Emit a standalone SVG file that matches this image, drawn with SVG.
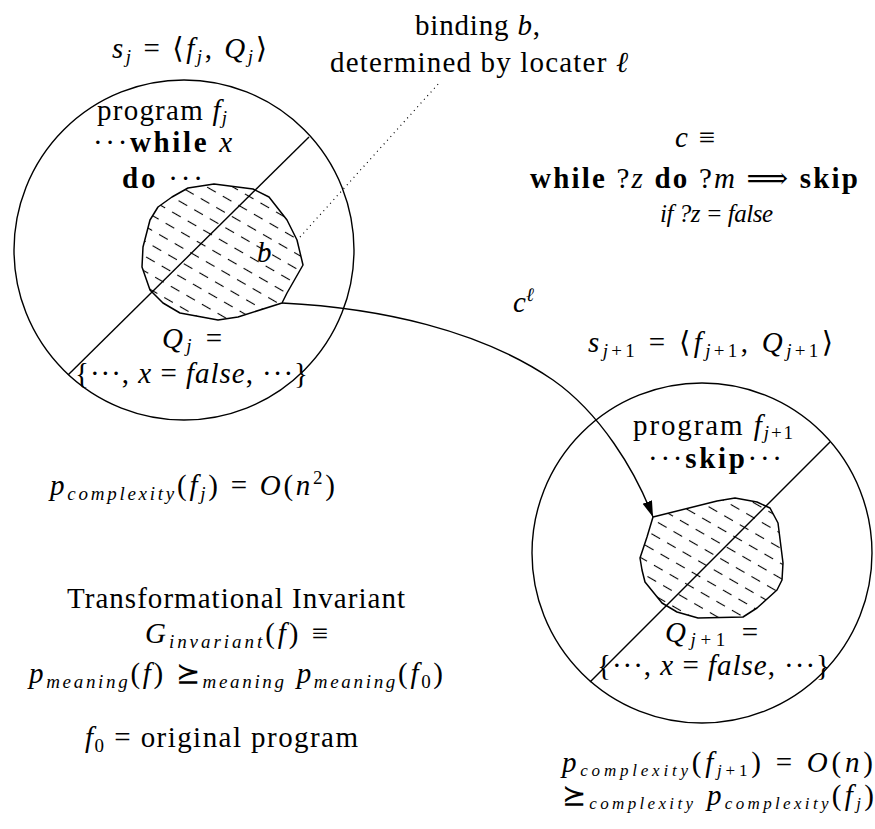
<svg xmlns="http://www.w3.org/2000/svg" width="875" height="829" viewBox="0 0 875 829">
<style>
text{font-family:"Liberation Serif","DejaVu Serif",serif;font-size:29px;fill:#000}
.i{font-style:italic}
.b{font-weight:bold}
.sub{font-style:italic;font-size:19px}
.subr{font-size:19px}
.small{font-size:17px}
.ring{fill:none;stroke:#000;stroke-width:1.4}
.cut{stroke:#000;stroke-width:1.4}
.blob{fill:url(#hatch);stroke:#000;stroke-width:1.5;stroke-linejoin:round}
.conn{fill:none;stroke:#000;stroke-width:1.4}
.dot{fill:none;stroke:#000;stroke-width:1.2;stroke-dasharray:1 4}
</style>
<defs>
<pattern id="hatch" patternUnits="userSpaceOnUse" width="18" height="13" patternTransform="rotate(30)">
<line x1="3" y1="6.5" x2="13" y2="6.5" stroke="#000" stroke-width="1.1"/>
</pattern>
<marker id="arrow" markerUnits="userSpaceOnUse" markerWidth="18" markerHeight="12" refX="16" refY="5" orient="auto">
<path d="M0,0 L16,5 L0,10 z" fill="#000"/>
</marker>
</defs>
<rect width="875" height="829" fill="#fff"/>

<g id="state-j">
<circle class="ring" cx="184" cy="250" r="170"/>
<polygon class="blob" points="214,184 253,189 269,197 287,220 297,240 303,265 287,293 282,303 238,317 218,320 180,313 163,303 150,290 142,267 143,247 150,220 158,207 172,197 188,188"/>
<line class="cut" x1="309" y1="137" x2="68" y2="375"/>
<text x="112" y="58" textLength="155"><tspan class="i">s</tspan><tspan class="sub" dy="5">j</tspan><tspan dy="-5"> = ⟨</tspan><tspan class="i">f</tspan><tspan class="sub" dy="5">j</tspan><tspan dy="-5">, </tspan><tspan class="i">Q</tspan><tspan class="sub" dy="5">j</tspan><tspan dy="-5">⟩</tspan></text>
<text x="97" y="120" textLength="130">program <tspan class="i">f</tspan><tspan class="sub" dy="4">j</tspan></text>
<text x="93" y="152" textLength="139">···<tspan class="b">while</tspan> <tspan class="i">x</tspan></text>
<text x="122" y="188" textLength="81"><tspan class="b">do</tspan> ···</text>
<text x="257" y="262" class="i">b</text>
<text x="162" y="348" textLength="60"><tspan class="i">Q</tspan><tspan class="sub" dy="4">j</tspan><tspan dy="-4"> =</tspan></text>
<text x="75" y="383" textLength="233">{···, <tspan class="i">x</tspan> = <tspan class="i">false</tspan>, ···}</text>
</g>

<g id="state-j1">
<circle class="ring" cx="702" cy="553" r="170"/>
<polygon class="blob" points="653,517 717,501 735,498 757,502 770,508 778,523 783,563 782,580 777,590 757,608 743,617 698,618 677,612 662,603 645,582 642,570 640,558 647,537 650,527"/>
<line class="cut" x1="830" y1="442" x2="590" y2="682"/>
<text x="588" y="352" textLength="245"><tspan class="i">s</tspan><tspan class="subr" dy="5"><tspan class="i">j</tspan>+1</tspan><tspan dy="-5"> = ⟨</tspan><tspan class="i">f</tspan><tspan class="subr" dy="5"><tspan class="i">j</tspan>+1</tspan><tspan dy="-5">, </tspan><tspan class="i">Q</tspan><tspan class="subr" dy="5"><tspan class="i">j</tspan>+1</tspan><tspan dy="-5">⟩</tspan></text>
<text x="633" y="435" textLength="160">program <tspan class="i">f</tspan><tspan class="subr" dy="4"><tspan class="i">j</tspan>+1</tspan></text>
<text x="648" y="468" textLength="134">···<tspan class="b">skip</tspan>···</text>
<text x="665" y="642" textLength="93"><tspan class="i">Q</tspan><tspan class="subr" dy="4"><tspan class="i">j</tspan>+1</tspan><tspan dy="-4"> =</tspan></text>
<text x="597" y="675" textLength="233">{···, <tspan class="i">x</tspan> = <tspan class="i">false</tspan>, ···}</text>
</g>

<g id="connectors">
<path class="conn" d="M282,303 C380,308 480,330 553,380 C600,413 635,470 653,517" marker-end="url(#arrow)"/>
<line class="dot" x1="300" y1="237" x2="440" y2="82"/>
</g>

<g id="labels">
<text x="415" y="35" textLength="125">binding <tspan class="i">b</tspan>,</text>
<text x="330" y="72" textLength="298">determined by locater <tspan class="i">ℓ</tspan></text>
<text x="675" y="147" textLength="40"><tspan class="i">c</tspan> ≡</text>
<text x="530" y="188" textLength="328"><tspan class="b">while</tspan> ?<tspan class="i">z</tspan> <tspan class="b">do</tspan> ?<tspan class="i">m</tspan> ⟹ <tspan class="b">skip</tspan></text>
<text x="660" y="222" textLength="113" class="i" style="font-size:25px">if ?z = false</text>
<text x="513" y="312"><tspan class="i">c</tspan><tspan class="sub" dy="-11">ℓ</tspan></text>
<text x="50" y="495" textLength="285"><tspan class="i">p</tspan><tspan class="sub" dy="5">complexity</tspan><tspan dy="-5">(</tspan><tspan class="i">f</tspan><tspan class="sub" dy="5">j</tspan><tspan dy="-5">) = </tspan><tspan class="i">O</tspan>(<tspan class="i">n</tspan><tspan class="subr" dy="-11">2</tspan><tspan dy="11">)</tspan></text>
<text x="67" y="608" textLength="338">Transformational Invariant</text>
<text x="145" y="643" textLength="183"><tspan class="i">G</tspan><tspan class="sub" dy="5">invariant</tspan><tspan dy="-5">(</tspan><tspan class="i">f</tspan>) ≡</text>
<text x="29" y="683" textLength="414"><tspan class="i">p</tspan><tspan class="sub" dy="5">meaning</tspan><tspan dy="-5">(</tspan><tspan class="i">f</tspan>) ⪰<tspan class="sub" dy="5">meaning</tspan><tspan dy="-5"> </tspan><tspan class="i">p</tspan><tspan class="sub" dy="5">meaning</tspan><tspan dy="-5">(</tspan><tspan class="i">f</tspan><tspan class="subr" dy="5">0</tspan><tspan dy="-5">)</tspan></text>
<text x="85" y="747" textLength="273"><tspan class="i">f</tspan><tspan class="subr" dy="5">0</tspan><tspan dy="-5"> = original program</tspan></text>
<text x="562" y="772" textLength="311"><tspan class="i">p</tspan><tspan class="sub small" dy="4">complexity</tspan><tspan dy="-4">(</tspan><tspan class="i">f</tspan><tspan class="subr small" dy="4"><tspan class="i">j</tspan>+1</tspan><tspan dy="-4">) = </tspan><tspan class="i">O</tspan>(<tspan class="i">n</tspan>)</text>
<text x="562" y="805" textLength="312">⪰<tspan class="sub small" dy="4">complexity</tspan><tspan dy="-4"> </tspan><tspan class="i">p</tspan><tspan class="sub small" dy="4">complexity</tspan><tspan dy="-4">(</tspan><tspan class="i">f</tspan><tspan class="sub small" dy="4">j</tspan><tspan dy="-4">)</tspan></text>
</g>
</svg>
